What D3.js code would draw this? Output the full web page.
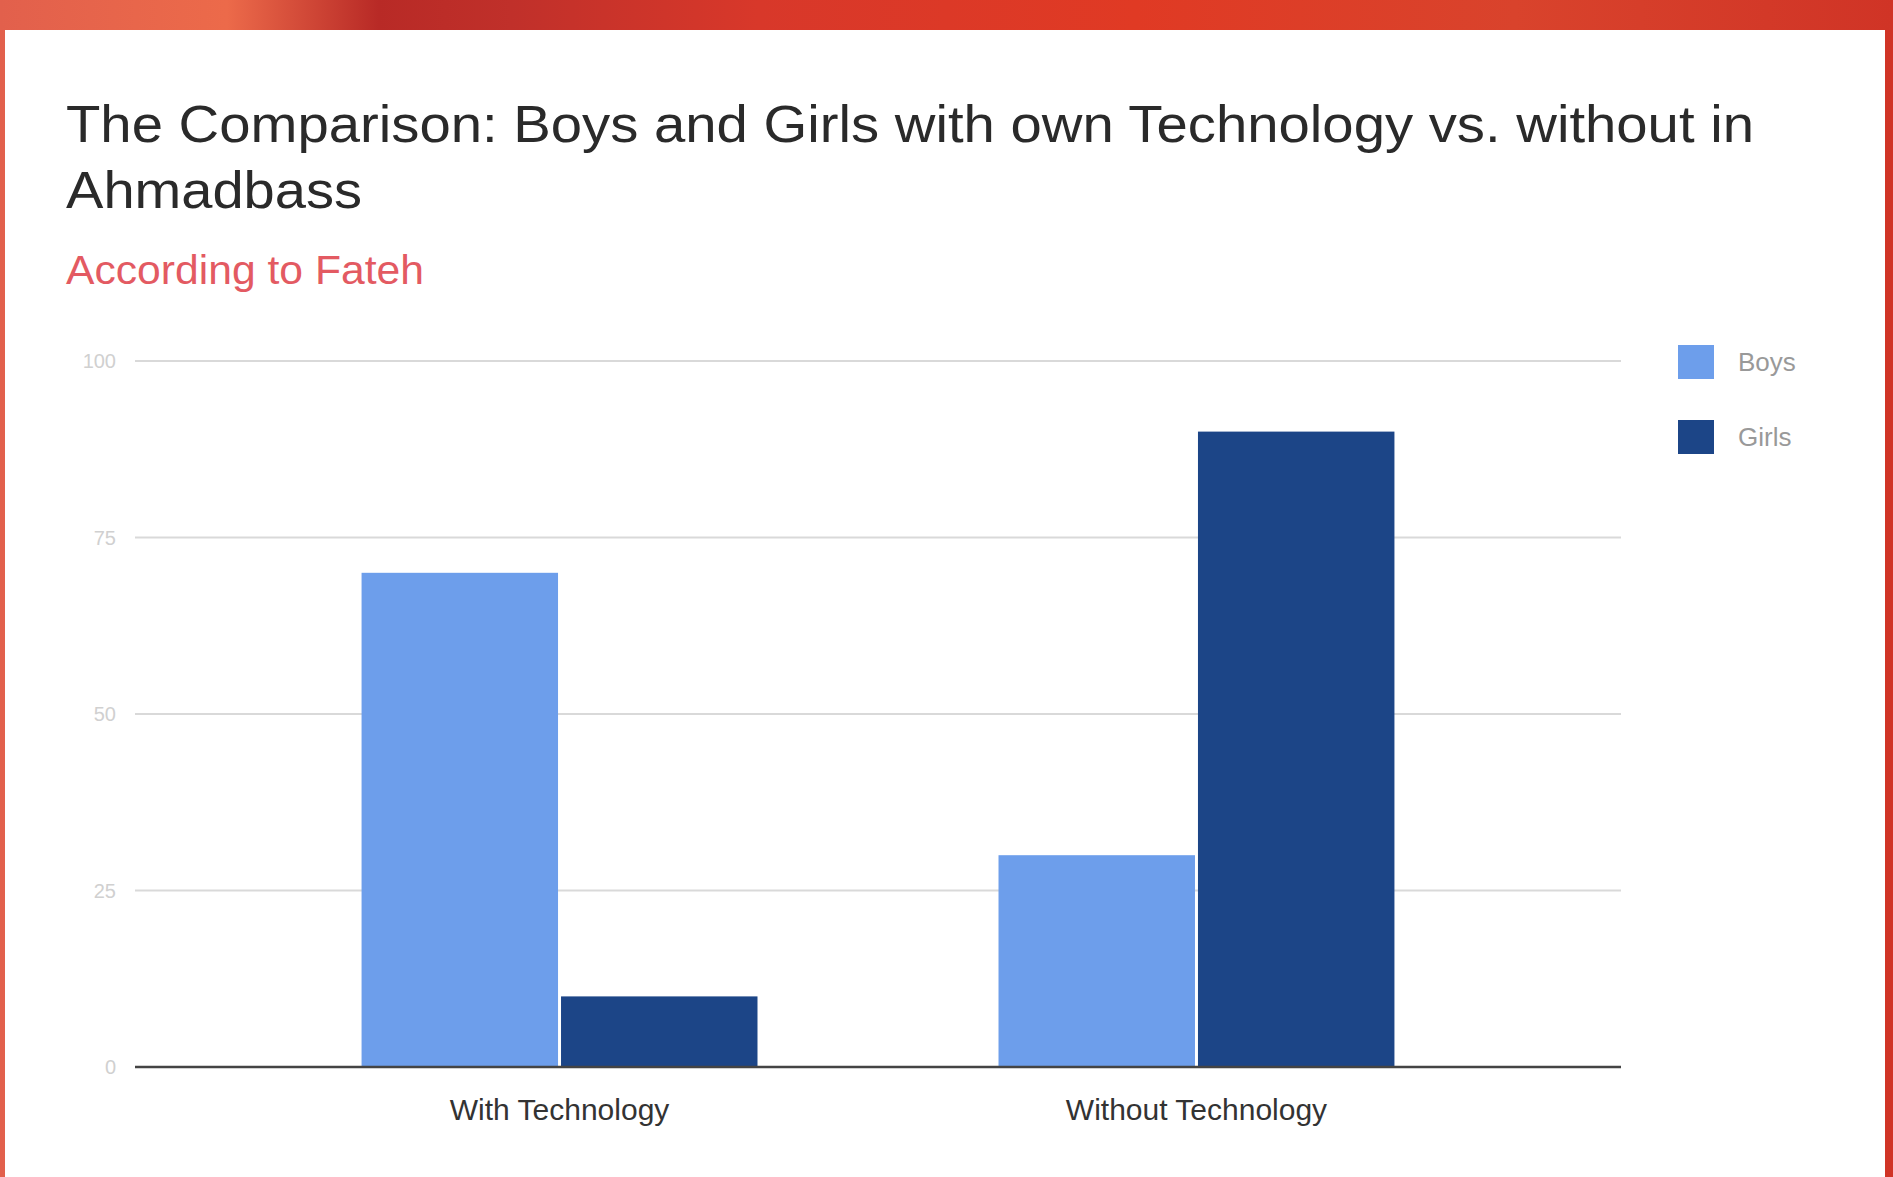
<!DOCTYPE html>
<html>
<head>
<meta charset="utf-8">
<script src="https://cdn.jsdelivr.net/npm/d3@7"></script>
<style>
  html, body { margin: 0; padding: 0; background: #fff; }
  svg { display: block; font-family: "Liberation Sans", Arial, sans-serif; }
</style>
</head>
<body>
<div id="chart"></div>
<script>
const categories = ["With Technology", "Without Technology"];
const seriesNames = ["Boys", "Girls"];
const boys = [70, 30];
const girls = [10, 90];
const yTicks = [0, 25, 50, 75, 100];

const W = 1893, H = 1177;
const color = d3.scaleOrdinal(seriesNames, ["#6d9eeb", "#1c4587"]);

const svg = d3.select("#chart").append("svg")
    .attr("width", W)
    .attr("height", H);

// red textured backdrop
const defs = svg.append("defs");
const grad = defs.append("linearGradient").attr("id", "redbg");
[[0, "#e2604c"], [0.12, "#ec6a4a"], [0.2, "#b82a26"], [0.27, "#c0302a"],
 [0.4, "#d8382a"], [0.6, "#e03a24"], [0.8, "#d9432c"], [1, "#d03426"]]
    .forEach(s => grad.append("stop").attr("offset", s[0]).attr("stop-color", s[1]));
svg.append("rect").attr("width", W).attr("height", H).attr("fill", "url(#redbg)");
svg.append("rect").attr("x", 5).attr("y", 30).attr("width", 1880).attr("height", H - 30)
    .attr("fill", "#fff");

// titles
svg.append("text").attr("x", 66).attr("y", 142)
    .attr("font-size", 52).attr("fill", "#2a2a2a")
    .attr("textLength", 1688).attr("lengthAdjust", "spacingAndGlyphs")
    .text("The Comparison: Boys and Girls with own Technology vs. without in");
svg.append("text").attr("x", 66).attr("y", 208)
    .attr("font-size", 52).attr("fill", "#2a2a2a")
    .attr("textLength", 296).attr("lengthAdjust", "spacingAndGlyphs")
    .text("Ahmadbass");
svg.append("text").attr("x", 66).attr("y", 284)
    .attr("font-size", 40).attr("fill", "#e35a62")
    .attr("textLength", 358).attr("lengthAdjust", "spacingAndGlyphs")
    .text("According to Fateh");

// scales
const x0 = d3.scaleBand().domain(categories).range([135, 1621])
    .paddingInner(0.369).paddingOuter(0.351);
const x1 = d3.scaleBand().domain(seriesNames).range([0, x0.bandwidth()]).padding(0.015);
const y = d3.scaleLinear().domain([0, 100]).range([1067, 361]);

// gridlines
svg.append("g").selectAll("line").data(yTicks.filter(d => d > 0)).join("line")
    .attr("x1", 135).attr("x2", 1621)
    .attr("y1", d => y(d)).attr("y2", d => y(d))
    .attr("stroke", "#d9d9d9").attr("stroke-width", 2);

// y labels
svg.append("g").selectAll("text").data(yTicks).join("text")
    .attr("x", 116).attr("y", d => y(d) + 7)
    .attr("text-anchor", "end").attr("font-size", 20).attr("fill", "#d0d0d0")
    .text(d => d);

// bars
const rows = categories.map((c, i) => ({ cat: c, vals: [boys[i], girls[i]] }));
svg.append("g").selectAll("g").data(rows).join("g")
    .attr("transform", d => `translate(${x0(d.cat)},0)`)
    .selectAll("rect").data(d => d.vals.map((v, j) => ({ key: seriesNames[j], v })))
    .join("rect")
    .attr("x", d => x1(d.key)).attr("width", x1.bandwidth())
    .attr("y", d => y(d.v)).attr("height", d => y(0) - y(d.v))
    .attr("fill", d => color(d.key));

// baseline
svg.append("line").attr("x1", 135).attr("x2", 1621)
    .attr("y1", y(0)).attr("y2", y(0))
    .attr("stroke", "#444").attr("stroke-width", 2.5);

// x labels
const xAxis = d3.axisBottom(x0).tickSize(0).tickPadding(0);
const gx = svg.append("g").attr("transform", `translate(0,${y(0)})`).call(xAxis);
gx.select(".domain").remove();
gx.selectAll("text").attr("y", 53).attr("dy", 0)
    .attr("font-size", 30).attr("fill", "#333")
    .attr("font-family", "'Liberation Sans', Arial, sans-serif");

// legend
const lg = svg.append("g").selectAll("g").data(seriesNames).join("g")
    .attr("transform", (d, i) => `translate(1678,${345 + i * 75})`);
lg.append("rect").attr("width", 36).attr("height", 34).attr("fill", d => color(d));
lg.append("text").attr("x", 60).attr("y", 26)
    .attr("font-size", 26).attr("fill", "#999").text(d => d);
</script>
</body>
</html>
